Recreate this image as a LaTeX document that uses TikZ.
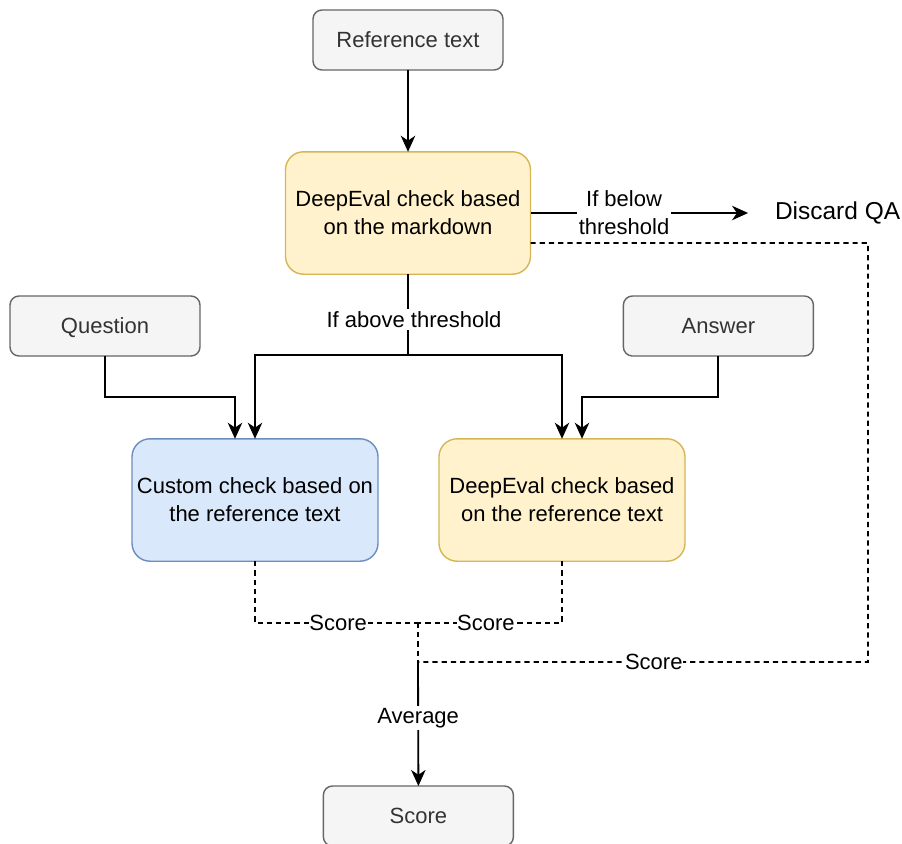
\documentclass[tikz,border=0pt]{standalone}
\usepackage{fontspec}
\setmainfont{Liberation Sans}
\usetikzlibrary{positioning,arrows.meta}
\definecolor{greyfill}{HTML}{F5F5F5}
\definecolor{greyline}{HTML}{666666}
\definecolor{greytext}{HTML}{333333}
\definecolor{yellowfill}{HTML}{FFF2CC}
\definecolor{yellowline}{HTML}{D6B656}
\definecolor{bluefill}{HTML}{DAE8FC}
\definecolor{blueline}{HTML}{6C8EBF}
\begin{document}
\begin{tikzpicture}[line width=1.3pt,align=center,
  every node/.style={inner sep=1,outer sep=0,font=\fontsize{15.65}{19.9}\selectfont},
  greybox/.style={draw=greyline,fill=greyfill,text=greytext,line width=1pt,rounded corners=0.225cm,minimum width=4.75cm,minimum height=1.5cm,text depth=0pt},
  checkbox/.style={line width=1pt,rounded corners=0.45cm,minimum width=6.15cm,minimum height=3.06cm},
  lbl/.style={fill=white,inner sep=1.5pt},
  >={Stealth[length=0.4cm,width=0.36cm,inset=0.12cm]},
  score/.style={dashed,dash pattern=on 0.13cm off 0.1cm}]
\fill[white] (0,0) rectangle (22.55,-21.075);
\useasboundingbox (0,0) rectangle (22.55,-21.075);
\node (0) at (10.2,-1) [greybox] {Reference text};
\node (1) [below of=0,node distance=4.325cm,checkbox,draw=yellowline,fill=yellowfill,minimum width=6.125cm] {DeepEval check based\\on the markdown};
\node (2) [right of=1,node distance=10.74cm,font=\fontsize{17.4}{21}\selectfont,inner sep=0] {Discard QA};
\node (3) at (2.625,-8.15) [greybox] {Question};
\node (4) at (17.96,-8.15) [greybox] {Answer};
\node (5) at (6.375,-12.5) [checkbox,draw=blueline,fill=bluefill] {Custom check based on\\the reference text};
\node (6) at (14.05,-12.5) [checkbox,draw=yellowline,fill=yellowfill] {DeepEval check based\\on the reference text};
\node (7) at (10.46,-20.4) [greybox] {Score};
\coordinate (j1) at (10.45,-15.575);
\coordinate (j2) at (10.45,-16.55);
\draw [->] (0) -- (1);
\draw [->] (1.east) -- node[lbl,pos=0.43]{If below\\threshold} ([xshift=-0.675cm]2.west);
\draw [->] (1.south) -- node[lbl,pos=0.56,xshift=0.15cm]{If above threshold} ++(0,-2.025) coordinate (b) -| (5.north);
\draw [->] (b) -| (6.north);
\draw [->] (3.south) -- ++(0,-1.025) -| ([xshift=-0.5cm]5.north);
\draw [->] (4.south) -- ++(0,-1.025) -| ([xshift=0.5cm]6.north);
\draw [score] (5.south) |- node[lbl,pos=0.755,inner sep=0.5pt]{Score} (j1);
\draw [score] (6.south) |- node[lbl,pos=0.764,inner sep=0.5pt]{Score} (j1);
\draw [score] (j1) -- (j2);
\draw [score] ([yshift=-0.75cm]1.east) -- (21.7,-6.075) |- node[lbl,pos=0.738,inner sep=0.5pt]{Score} (j2);
\draw [->] (j2) -- node[lbl,pos=0.45]{Average} (7.north);
\end{tikzpicture}
\end{document}
